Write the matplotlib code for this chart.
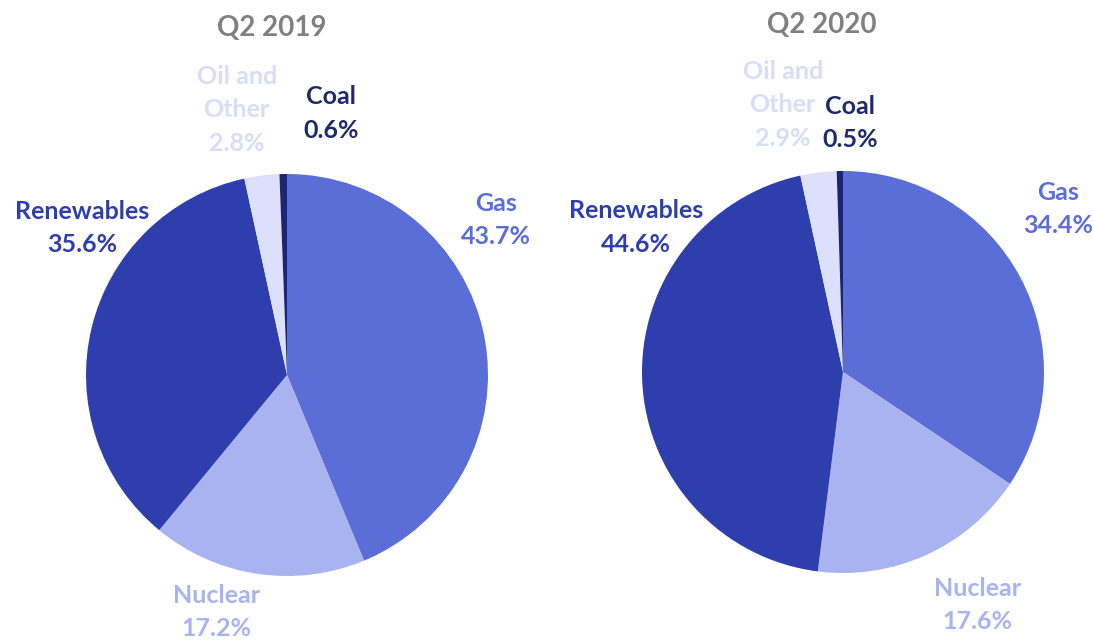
import matplotlib.pyplot as plt
import numpy as np

plt.rcParams["font.family"] = ["Lato", "DejaVu Sans"]

categories = ["Gas", "Nuclear", "Renewables", "Oil and\nOther", "Coal"]
q2_2019 = [43.7, 17.2, 35.6, 2.8, 0.6]
q2_2020 = [34.4, 17.6, 44.6, 2.9, 0.5]
titles = ["Q2 2019", "Q2 2020"]

slice_colors = ["#5B6ED8", "#A8B3F0", "#2E3EAD", "#DCE0FA", "#1C2670"]
text_colors = ["#5B6ED8", "#A8B3F0", "#2E3EAD", "#D8DDF8", "#1F2A6E"]

# label centres, in pie-radius units
label_pos = [
    [(1.04, 0.77), (-0.35, -1.18), (-1.02, 0.73), (-0.25, 1.32), (0.22, 1.30)],
    [(1.07, 0.81), (0.67, -1.16), (-1.03, 0.72), (-0.30, 1.33), (0.035, 1.24)],
]

W, H = 1093, 641
fig = plt.figure(figsize=(W / 100, H / 100), dpi=100)

centres = [(287, 375), (843, 372)]
radius = 201
title_xy = [(272, 28), (822, 25)]

for i, values in enumerate([q2_2019, q2_2020]):
    cx, cy = centres[i]
    ax = fig.add_axes([(cx - radius) / W, (H - cy - radius) / H, 2 * radius / W, 2 * radius / H])
    ax.pie(values, colors=slice_colors, startangle=90, counterclock=False,
           wedgeprops=dict(linewidth=0))
    ax.set_xlim(-1, 1)
    ax.set_ylim(-1, 1)
    ax.set_aspect("equal")
    ax.axis("off")
    for j, (name, v) in enumerate(zip(categories, values)):
        dx, dy = label_pos[i][j]
        ax.text(dx, dy, f"{name}\n{v:.1f}%", ha="center", va="center", fontsize=18,
                fontweight="bold", color=text_colors[j], linespacing=1.55)
    tx, ty = title_xy[i]
    fig.text(tx / W, 1 - ty / H, titles[i], ha="center", va="center", fontsize=20,
             fontweight="bold", color="#808080")

fig.savefig("out.png", dpi=100)
